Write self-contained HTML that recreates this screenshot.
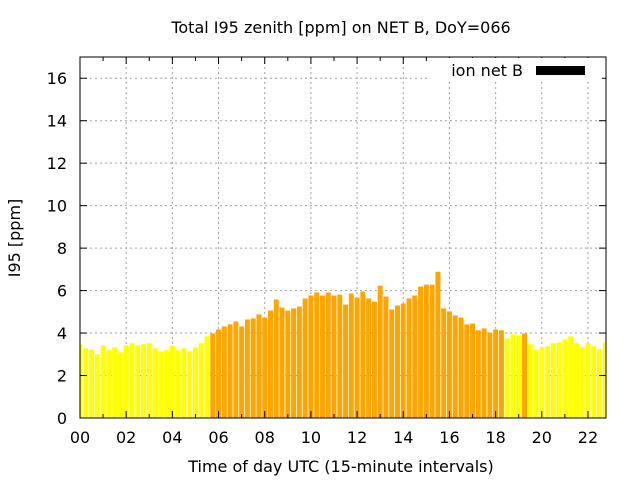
<!DOCTYPE html>
<html><head><meta charset="utf-8"><style>
html,body{margin:0;padding:0;background:#fff;}
svg{display:block;font-family:"DejaVu Sans","Liberation Sans",sans-serif;}
</style></head><body>
<svg id="chart" width="640" height="480" viewBox="0 0 640 480">
<text x="341" y="33" text-anchor="middle" font-size="16">Total I95 zenith [ppm] on NET B, DoY=066</text>
<g id="grid"></g>
<g id="bars"></g>
<g id="axes"></g>
<rect x="428" y="58" width="174" height="24" fill="#fff"/>
<text x="523" y="76" text-anchor="end" font-size="16">ion net B</text>
<rect x="536" y="66" width="49" height="9" fill="#000"/>
<text x="341" y="472" text-anchor="middle" font-size="16">Time of day UTC (15-minute intervals)</text>
<text transform="translate(20,238) rotate(-90)" text-anchor="middle" font-size="16">I95 [ppm]</text>
</svg>
<script>
const values = [3.47,3.28,3.23,3.0,3.42,3.19,3.33,3.09,3.42,3.52,3.42,3.47,3.52,3.28,3.14,3.19,3.42,3.19,3.28,3.14,3.33,3.52,3.84,
3.98,4.17,4.31,4.41,4.55,4.31,4.64,4.69,
4.88,4.73,5.06,5.58,5.2,5.06,5.16,5.25,5.63,5.77,5.91,5.77,5.91,5.77,5.81,5.34,5.86,5.67,5.95,5.63,5.48,6.23,5.72,5.11,5.3,5.39,5.63,5.77,6.19,6.28,
6.28,6.89,5.16,5.02,4.83,4.73,4.41,4.45,4.13,4.22,4.03,4.17,4.13,
3.75,3.94,3.89,3.98,
3.47,3.23,3.33,3.38,3.52,3.56,3.7,3.84,3.52,3.33,3.52,3.38,3.23,3.56];
const flags = [];
for (let i=0;i<values.length;i++){ flags.push((i>=23&&i<=73)||i===77 ? 'high':'low'); }
const xTicks = ["00","02","04","06","08","10","12","14","16","18","20","22"];
const yTicks = [0,2,4,6,8,10,12,14,16];

const L=80,R=606,T=57,B=418,XMAX=22.78,YMAX=17;
const sx=h=>L+h/XMAX*(R-L);
const sy=v=>B-v/YMAX*(B-T);
const NS="http://www.w3.org/2000/svg";
function mk(tag,attrs,parent){const e=document.createElementNS(NS,tag);for(const k in attrs)e.setAttribute(k,attrs[k]);parent.appendChild(e);return e;}
const grid=document.getElementById('grid'),bars=document.getElementById('bars'),axes=document.getElementById('axes');

yTicks.forEach(v=>{
  const y=sy(v);
  if(v>0){const g=mk('line',{x1:L,x2:R,y1:y,y2:y,stroke:'#a0a0a0','stroke-dasharray':'2,3'},grid);
  
  }
  const t=mk('text',{x:L-13,y:y+6,'text-anchor':'end','font-size':'16'},axes);
  t.textContent=v;
  
  
  mk('line',{x1:L,x2:L+7,y1:y,y2:y,stroke:'#000'},axes);
  mk('line',{x1:R,x2:R-7,y1:y,y2:y,stroke:'#000'},axes);
});
xTicks.forEach(s=>{
  const h=parseInt(s,10),x=sx(h);
  if(h>0){const g=mk('line',{x1:x,x2:x,y1:T,y2:B,stroke:'#a0a0a0','stroke-dasharray':'2,3'},grid);
  
  }
  const t=mk('text',{x:x,y:B+25,'text-anchor':'middle','font-size':'16'},axes);
  t.textContent=s;
  
  
});
for(let h=0;h<=22;h++){const x=sx(h);
  mk('line',{x1:x,x2:x,y1:B,y2:B-(h%2?4:7),stroke:'#000'},axes);
  mk('line',{x1:x,x2:x,y1:T,y2:T+(h%2?4:7),stroke:'#000'},axes);}
const w=(R-L)/XMAX/4;
mk('clipPath',{id:'clip'},bars).appendChild(document.createElementNS(NS,'rect'));
const cr=bars.querySelector('clipPath rect');cr.setAttribute('x',L);cr.setAttribute('y',T);cr.setAttribute('width',R-L);cr.setAttribute('height',B-T);
values.forEach((v,i)=>{
  const c=sx(i/4);
  const b=mk('rect',{x:c-w*0.43,y:sy(v),width:w*0.86,height:B-sy(v),fill:flags[i]==='high'?'#ffa500':'#ffff00','clip-path':'url(#clip)'},bars);
  
  
});
mk('rect',{x:L,y:T,width:R-L,height:B-T,fill:'none',stroke:'#000','stroke-width':1},axes);
</script>
</body></html>
